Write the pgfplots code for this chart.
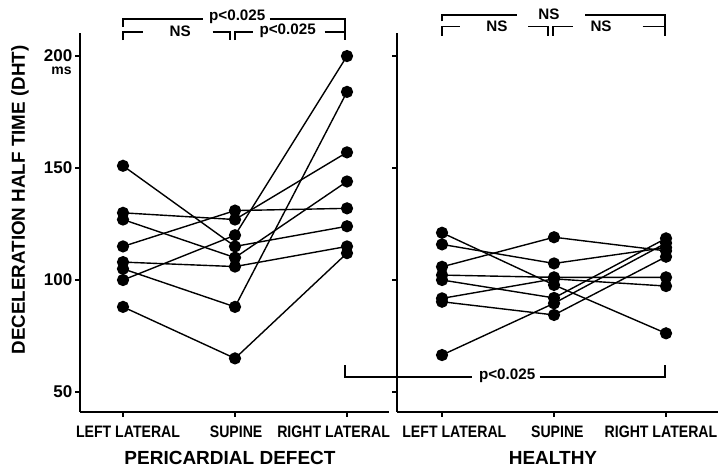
\documentclass[border=0pt]{standalone}
\usepackage{fontspec}
\setmainfont{Liberation Sans}
\newfontfamily\cond[FakeStretch=0.85]{Liberation Sans}
\usepackage{pgfplots}
\pgfplotsset{compat=1.18}
\pgfplotsset{
  panel/.style={
    scale only axis, anchor=south west,
    height=189.5pt,
    ymin=41.07, ymax=210.3,
    axis lines*=left,
    axis line style={line width=1pt},
    xtick={0,1,2},
    xticklabels={},
    ytick={50,100,150,200},
    yticklabel style={font=\bfseries\fontsize{8.5}{9}\selectfont, xshift=2.2pt},
    /pgf/number format/assume math mode=true,
    tick align=outside, major tick length=2.5pt,
    tick style={line width=0.8pt, black},
    clip=false,
  },
}
\tikzset{
  pt/.style={black, solid, line width=0.7pt, mark=*, mark size=2.7pt, mark options={solid, fill=black}},
  br/.style={line width=0.75pt},
  bt/.style={font=\bfseries\fontsize{7.6}{8}\selectfont, inner sep=0pt},
  cl/.style={font=\cond\bfseries\fontsize{8.3}{9}\selectfont, inner sep=0pt, anchor=base},
}
\begin{document}
\begin{tikzpicture}
\useasboundingbox (0pt,0pt) rectangle (359pt,234.5pt);
% ---------------- Pericardial defect ----------------
\begin{axis}[panel, at={(40pt,28.5pt)}, width=154.5pt, xmin=-0.384, xmax=2.375]
\addplot[pt] coordinates {(0,151) (1,115) (2,124)};
\addplot[pt] coordinates {(0,130) (1,127) (2,157)};
\addplot[pt] coordinates {(0,127) (1,110) (2,144)};
\addplot[pt] coordinates {(0,115) (1,131) (2,132)};
\addplot[pt] coordinates {(0,108) (1,106) (2,115)};
\addplot[pt] coordinates {(0,105) (1,88) (2,184)};
\addplot[pt] coordinates {(0,100) (1,120) (2,200)};
\addplot[pt] coordinates {(0,88) (1,65) (2,112)};
% category labels
\node[cl] at (axis cs:0.045,29.9) {LEFT LATERAL};
\node[cl] at (axis cs:1.01,29.9) {SUPINE};
\node[cl] at (axis cs:1.88,29.9) {RIGHT LATERAL};
% brackets
\draw[br] (axis cs:0,212.9) -- (axis cs:0,216.5) -- (axis cs:0.71,216.5);
\draw[br] (axis cs:1.31,216.5) -- (axis cs:1.98,216.5) -- (axis cs:1.98,207.1);
\node[bt] at (axis cs:1.02,217.6) {p<0.025};
\draw[br] (axis cs:0,207.1) -- (axis cs:0,210.8) -- (axis cs:0.18,210.8);
\draw[br] (axis cs:0.80,210.8) -- (axis cs:0.955,210.8) -- (axis cs:0.955,207.1);
\node[bt] at (axis cs:0.51,211.2) {NS};
\draw[br] (axis cs:1.0,207.1) -- (axis cs:1.0,210.8) -- (axis cs:1.16,210.8);
\draw[br] (axis cs:1.80,210.8) -- (axis cs:1.98,210.8);
\node[bt] at (axis cs:1.47,211.2) {p<0.025};
% bottom bracket
\draw[br] (axis cs:1.98,62) -- (axis cs:1.98,56.7) -- (axis cs:3.12,56.7);
\draw[br] (axis cs:3.72,56.7) -- (axis cs:4.84,56.7) -- (axis cs:4.84,62);
\node[bt] at (axis cs:3.43,57.2) {p<0.025};
\node[anchor=north east, font=\bfseries\fontsize{7}{8}\selectfont, inner sep=0pt] at (axis cs:-0.384,200) [xshift=-4pt, yshift=-5.5pt] {ms};
\end{axis}
% ---------------- Healthy ----------------
\begin{axis}[panel, at={(198.5pt,28.5pt)}, width=160.5pt, xmin=-0.402, xmax=2.464, yticklabels={}]
\addplot[pt] coordinates {(0,121.1) (1,97.8) (2,76.2)};
\addplot[pt] coordinates {(0,115.9) (1,107.4) (2,114.5)};
\addplot[pt] coordinates {(0,105.9) (1,119.1) (2,113)};
\addplot[pt] coordinates {(0,102.2) (1,101.2) (2,101.2)};
\addplot[pt] coordinates {(0,100) (1,92) (2,118.6)};
\addplot[pt] coordinates {(0,91.8) (1,100.5) (2,97.3)};
\addplot[pt] coordinates {(0,90.3) (1,84.4) (2,110.4)};
\addplot[pt] coordinates {(0,66.5) (1,89.6) (2,116.5)};
\node[cl] at (axis cs:0.11,29.9) {LEFT LATERAL};
\node[cl] at (axis cs:1.03,29.9) {SUPINE};
\node[cl] at (axis cs:1.955,29.9) {RIGHT LATERAL};
\draw[br] (axis cs:0,215.5) -- (axis cs:0,218.3) -- (axis cs:0.67,218.3);
\draw[br] (axis cs:1.28,218.3) -- (axis cs:1.99,218.3) -- (axis cs:1.99,209);
\node[bt] at (axis cs:0.955,218.8) {NS};
\draw[br] (axis cs:0,209) -- (axis cs:0,213.1) -- (axis cs:0.16,213.1);
\draw[br] (axis cs:0.77,213.1) -- (axis cs:0.946,213.1) -- (axis cs:0.946,209);
\node[bt] at (axis cs:0.49,213.1) {NS};
\draw[br] (axis cs:0.99,209) -- (axis cs:0.99,213.1) -- (axis cs:1.17,213.1);
\draw[br] (axis cs:1.79,213.1) -- (axis cs:1.99,213.1);
\node[bt] at (axis cs:1.42,213.1) {NS};
\end{axis}
\node[rotate=90, font=\bfseries\fontsize{9.4}{10}\selectfont, inner sep=0pt] at (10pt,134.5pt) {DECELERATION HALF TIME (DHT)};
\node[font=\bfseries\fontsize{9.5}{10}\selectfont, inner sep=0pt] at (115pt,5.5pt) {PERICARDIAL DEFECT};
\node[font=\bfseries\fontsize{9.5}{10}\selectfont, inner sep=0pt] at (276.5pt,5.5pt) {HEALTHY};
\end{tikzpicture}
\end{document}
